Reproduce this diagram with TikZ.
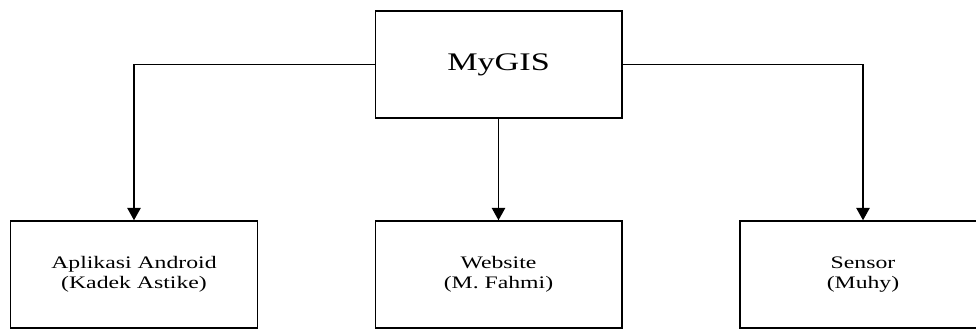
\documentclass[tikz,border=0pt]{standalone}
\usepackage{fontspec}
\setmainfont[FakeStretch=1.35]{Liberation Serif}
\usepackage{tikz}
\usetikzlibrary{shapes, arrows.meta}

\begin{document}
\begin{tikzpicture}[
  unit/.style={rectangle, draw, line width=0.85pt, minimum width=4.93cm, minimum height=2.14cm, align=center, font=\fontsize{10}{11.4}\selectfont},
  link/.style={line width=0.85pt, -{Triangle[width=0.27cm, length=0.25cm]}}
]
\useasboundingbox (0,0) rectangle (19.52,-6.58);
\node[unit, font=\fontsize{14.4}{16}\selectfont] (gis) at (9.97,-1.29) {MyGIS};
\node[unit] (android) at (2.68,-5.49) {Aplikasi Android\\(Kadek Astike)};
\node[unit] (web) at (9.97,-5.49) {Website\\(M. Fahmi)};
\node[unit] (sensor) at (17.26,-5.49) {Sensor\\(Muhy)};
\draw[link] (gis.west) -| (android.north);
\draw[link] (gis.south) -- (web.north);
\draw[link] (gis.east) -| (sensor.north);
\end{tikzpicture}
\end{document}
